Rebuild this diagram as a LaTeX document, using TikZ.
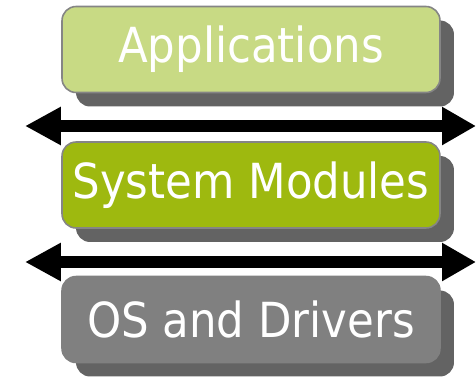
\documentclass[tikz,border=0pt]{standalone}
\usepackage{fontspec}
\setmainfont{DejaVu Sans}[FakeStretch=0.9]
\usepackage{xcolor}
\usetikzlibrary{shadows}
\usetikzlibrary{arrows, arrows.meta}
\definecolor{appgreen}{HTML}{C8DA84}
\definecolor{sysgreen}{HTML}{9EB90F}
\definecolor{osgray}{HTML}{808080}
\definecolor{rimgray}{HTML}{858585}
\definecolor{shadegray}{HTML}{636363}
\tikzset{
    layerbox/.style={rounded corners=0.28cm, draw=rimgray, line width=0.9pt,
        minimum width=7.56cm, minimum height=1.72cm, text=white,
        font=\fontsize{27.5}{30}\selectfont,
        general shadow={fill=shadegray, shadow xshift=0.28cm, shadow yshift=-0.28cm}},
    busarrow/.style={black, line width=0.24cm, {Triangle[length=0.72cm,width=0.72cm]}-{Triangle[length=0.68cm,width=0.72cm]}}
}

\begin{document}
\begin{tikzpicture}[x=0.02cm, y=-0.02cm]
    \useasboundingbox (0,0) rectangle (476,376);
    \coordinate (layer1) at (251,49.5);
    \coordinate (layer2) at (251,185);
    \coordinate (layer3) at (251,319.5);
    \coordinate (busL1) at (25,126);
    \coordinate (busR1) at (476,126);
    \coordinate (busL2) at (25,262);
    \coordinate (busR2) at (476,262);
    %
    \node[layerbox, fill=appgreen] at (layer1) (nodeApp) {Applications};
    \node[layerbox, fill=sysgreen] at (layer2) (nodeSys) {System Modules};
    \node[layerbox, fill=osgray, draw=osgray] at (layer3) (nodeOS) {OS and Drivers};
    %
    \draw[busarrow] (busL1) -- (busR1);
    \draw[busarrow] (busL2) -- (busR2);
\end{tikzpicture}
\end{document}
